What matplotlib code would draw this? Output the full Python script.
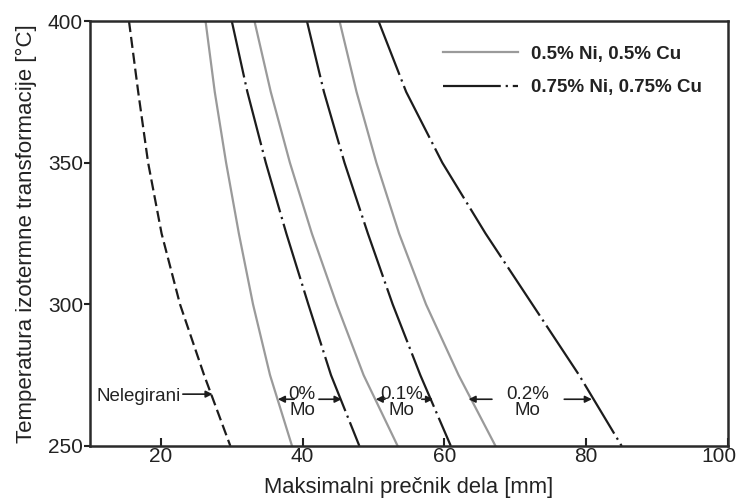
import matplotlib
matplotlib.use("Agg")
import matplotlib.pyplot as plt
from matplotlib.transforms import ScaledTranslation

matplotlib.rcParams['font.family'] = ['Liberation Sans', 'DejaVu Sans']

# temperature levels where the curves were read (deg C)
temps = [400, 375, 350, 325, 300, 275, 250]

# maximum diameter [mm] for each curve at those temperatures
d_plain = [15.5, 16.8, 18.2, 20.1, 22.7, 26.1, 29.8]
d_ni05_mo0 = [26.3, 27.6, 29.2, 31.0, 33.0, 35.4, 38.5]
d_ni075_mo0 = [30.0, 32.2, 34.8, 37.7, 40.8, 44.0, 48.0]
d_ni05_mo01 = [33.2, 35.5, 38.2, 41.3, 44.8, 48.6, 53.4]
d_ni075_mo01 = [40.6, 43.0, 45.9, 49.2, 52.7, 56.6, 60.9]
d_ni05_mo02 = [45.2, 47.6, 50.4, 53.6, 57.4, 62.0, 67.2]
d_ni075_mo02 = [50.7, 54.6, 59.7, 65.8, 72.4, 79.0, 85.0]

xticks = [20, 40, 60, 80, 100]
yticks = [250, 300, 350, 400]

GRAY = '#9a9a9a'
DARK = '#1c1c1c'
DASHDOT = (0, (26, 2.2, 1, 2.2))

fig = plt.figure(figsize=(7.4, 5.01), dpi=100)
ax = fig.add_axes([0.1216, 0.1098, 0.8622, 0.8482])

ax.plot(d_plain, temps, color=DARK, lw=1.6, linestyle=(0, (5, 2.2)))
ax.plot(d_ni05_mo0, temps, color=GRAY, lw=1.6, label='0.5% Ni, 0.5% Cu')
ax.plot(d_ni075_mo0, temps, color=DARK, lw=1.6, linestyle=DASHDOT,
        label='0.75% Ni, 0.75% Cu')
ax.plot(d_ni05_mo01, temps, color=GRAY, lw=1.6)
ax.plot(d_ni075_mo01, temps, color=DARK, lw=1.6, linestyle=DASHDOT)
ax.plot(d_ni05_mo02, temps, color=GRAY, lw=1.6)
ax.plot(d_ni075_mo02, temps, color=DARK, lw=1.6, linestyle=DASHDOT)

ax.set_xlim(10, 100)
ax.set_ylim(250, 400)
ax.set_xticks(xticks)
ax.set_yticks(yticks)
ax.tick_params(axis='x', direction='in', length=6, width=1.5,
               labelsize=15, pad=1, colors='#222222')
ax.tick_params(axis='y', direction='out', length=4, width=1.5,
               labelsize=15, pad=1, colors='#222222')
for s in ax.spines.values():
    s.set_linewidth(1.8)
    s.set_color('#2a2a2a')

# last x tick label sits a bit left so it stays inside the picture
last = ax.get_xticklabels()[-1]
last.set_transform(last.get_transform()
                   + ScaledTranslation(-9 / 100, 0, fig.dpi_scale_trans))

ax.set_xlabel('Maksimalni prečnik dela [mm]', fontsize=15.8, color='#222222',
              labelpad=8)
ax.set_ylabel('Temperatura izotermne transformacije [°C]', fontsize=16,
              color='#222222', labelpad=8)

# annotations
arrow = dict(arrowstyle='-|>', color=DARK, lw=1.2, mutation_scale=10,
             shrinkA=0, shrinkB=0)
ax.text(22.8, 267.5, 'Nelegirani', fontsize=13.5, ha='right', va='center',
        color='#222222')
ax.annotate('', xy=(27.3, 268.3), xytext=(23.1, 268.3), arrowprops=arrow)

for label, xc, left, right in [
        ('0%\nMo', 39.9, (38.8, 36.5), (42.3, 45.5)),
        ('0.1%\nMo', 54.0, (51.6, 50.3), (56.8, 58.4)),
        ('0.2%\nMo', 71.7, (66.7, 63.4), (76.9, 80.8))]:
    ax.text(xc, 265.4, label, fontsize=13.5, ha='center', va='center',
            linespacing=0.95, color='#222222')
    ax.annotate('', xy=(left[1], 266.5), xytext=(left[0], 266.5),
                arrowprops=arrow)
    ax.annotate('', xy=(right[1], 266.5), xytext=(right[0], 266.5),
                arrowprops=arrow)

leg = ax.legend(loc='upper left', bbox_to_anchor=(0.553, 0.942), frameon=False,
                handlelength=4.0, handletextpad=0.7, labelspacing=0.88,
                borderpad=0, borderaxespad=0,
                prop={'size': 13.5, 'weight': 'bold'})
for t in leg.get_texts():
    t.set_color('#222222')

fig.savefig('out.png', dpi=100)
